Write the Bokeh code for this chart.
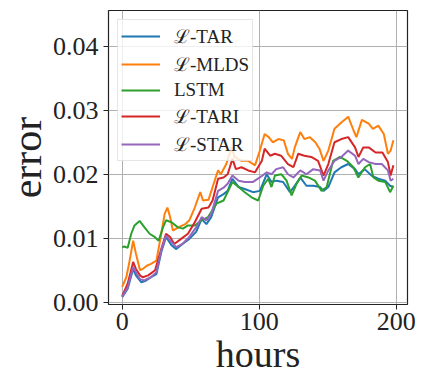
from bokeh.plotting import figure
from bokeh.models import Range1d, FixedTicker, NumeralTickFormatter, Legend, LegendItem
from bokeh.embed import file_html
from bokeh.resources import INLINE

# ---- data ----
tar_hours = [0, 4, 8, 10, 14, 17.5, 21, 25, 28.5, 32, 36, 39.5, 44, 49, 54, 58, 61.5, 65, 70, 74,
             77, 80.5, 85, 89.5, 95.5, 100.5, 105.5, 109, 112.5, 117.5, 122.5, 126, 130, 134.5, 139.5,
             144.5, 147, 150.5, 155, 160, 165, 170, 172.5, 177, 182, 187, 192, 195.5, 198]
tar_err = [0.0008, 0.0021, 0.0052, 0.0042, 0.0031, 0.0034, 0.0039, 0.0044, 0.0078, 0.0102,
           0.0089, 0.0083, 0.0091, 0.0099, 0.011, 0.013, 0.0122, 0.0133, 0.0164, 0.0169,
           0.0174, 0.0193, 0.018, 0.0177, 0.0172, 0.0174, 0.02, 0.0188, 0.019, 0.0188,
           0.0172, 0.0182, 0.0195, 0.0182, 0.0182, 0.018, 0.0174, 0.018, 0.0203, 0.0211,
           0.0216, 0.0208, 0.02, 0.0208, 0.0198, 0.0193, 0.019, 0.0182, 0.018]

mlds_hours = [0, 3, 5, 8, 10, 13, 15, 18, 21, 25, 28.5, 31, 33, 35, 37, 41, 46, 49, 53, 57,
              59, 63, 66, 70, 72, 76, 80, 82, 87, 92, 97, 100.5, 104, 107, 110, 114, 118, 121, 124, 126,
              130, 133, 137, 141, 144, 147, 150.5, 155, 160, 165, 169, 171, 175, 180, 183, 187, 191, 194, 196, 198]
mlds_err = [0.0024, 0.0039, 0.006, 0.0096, 0.0076, 0.005, 0.0052, 0.0057, 0.006, 0.0065,
            0.0107, 0.0138, 0.0148, 0.0133, 0.0112, 0.0117, 0.0122, 0.0128, 0.0148, 0.0172,
            0.0159, 0.016, 0.018, 0.0206, 0.02, 0.0216, 0.0242, 0.0227, 0.0221, 0.0221,
            0.0214, 0.0237, 0.0263, 0.0258, 0.025, 0.0255, 0.0253, 0.0232, 0.0224, 0.0242,
            0.0266, 0.0255, 0.0258, 0.025, 0.024, 0.0221, 0.0237, 0.0271, 0.0281, 0.029,
            0.0268, 0.0258, 0.0285, 0.0279, 0.0271, 0.0276, 0.0263, 0.0232, 0.0237, 0.0253]

lstm_hours = [0, 1.7, 4, 6.6, 9, 12.7, 16.3, 20, 23.7, 26.6, 29.8, 32, 36, 40.7, 44.4, 48, 53, 58,
              62.7, 68.8, 74, 77, 80.5, 85, 89.5, 94.4, 99.3, 103, 106.6, 109, 111.5, 116.3, 120,
              123.7, 127.3, 131, 136, 140.7, 145.6, 149.3, 154, 159, 164, 168.8, 172.4, 177.3, 181,
              183.4, 187, 192, 195.6, 198]
lstm_err = [0.0086, 0.0087, 0.0085, 0.0107, 0.012, 0.0127, 0.0117, 0.0107, 0.0102, 0.0096,
            0.0117, 0.0128, 0.0125, 0.0117, 0.0115, 0.012, 0.012, 0.0128, 0.0133, 0.0154,
            0.0159, 0.0172, 0.0188, 0.018, 0.0172, 0.0164, 0.0159, 0.0182, 0.0193, 0.018,
            0.0198, 0.02, 0.019, 0.0167, 0.0185, 0.0198, 0.0195, 0.019, 0.0174, 0.018,
            0.0221, 0.0227, 0.0221, 0.0211, 0.0195, 0.0211, 0.0216, 0.0195, 0.019, 0.0188,
            0.0172, 0.0182]

tari_hours = [0, 4, 8, 10, 13, 15, 19, 24, 28.5, 32, 35, 38, 43, 48, 53, 58, 63, 66, 70, 74,
              77, 80.5, 83, 87, 92, 97, 102, 104, 108, 111.5, 116, 121, 125, 128.5, 133, 138, 143,
              147, 150.5, 155, 160, 165, 170, 172.5, 176, 180, 185, 190, 194, 196, 198]
tari_err = [0.001, 0.0029, 0.0063, 0.0052, 0.0042, 0.0039, 0.0042, 0.005, 0.0083, 0.0107,
            0.0102, 0.0091, 0.0099, 0.0107, 0.0125, 0.0146, 0.0148, 0.0159, 0.0193, 0.0195,
            0.02, 0.0224, 0.0208, 0.0211, 0.0206, 0.0203, 0.0221, 0.024, 0.0229, 0.0232,
            0.0229, 0.0216, 0.0211, 0.0232, 0.0229, 0.0227, 0.0221, 0.0198, 0.0216, 0.025,
            0.0255, 0.0258, 0.0242, 0.0227, 0.0242, 0.0242, 0.0234, 0.0234, 0.0219, 0.0198,
            0.0214]

star_hours = [0, 4, 8, 10, 13, 16, 21, 25, 28.5, 32, 36, 39.5, 44, 49, 54, 58, 61.5, 65, 70, 74,
              77, 80.5, 85, 89.5, 95.5, 100.5, 105.5, 109, 112.5, 117.5, 121, 125, 130, 134.5, 139.5,
              144.5, 147, 150.5, 155, 160, 165, 170, 172.5, 176, 180, 185, 189.5, 194, 196, 198]
star_err = [0.0009, 0.0023, 0.0055, 0.0047, 0.0036, 0.0034, 0.0039, 0.0047, 0.0081, 0.0104,
            0.0094, 0.0086, 0.0091, 0.0102, 0.0117, 0.0133, 0.0128, 0.0138, 0.0174, 0.0179,
            0.0185, 0.0198, 0.019, 0.0188, 0.0188, 0.0195, 0.0203, 0.02, 0.0208, 0.0211,
            0.02, 0.0195, 0.0206, 0.02, 0.0208, 0.0206, 0.019, 0.0206, 0.0221, 0.0227,
            0.0237, 0.0229, 0.0216, 0.0224, 0.0219, 0.0216, 0.0216, 0.0206, 0.019, 0.0193]

series_labels = ["\u2112-TAR", "\u2112-MLDS", "LSTM", "\u2112-TARI", "\u2112-STAR"]
series_colors = ["#1f77b4", "#ff7f0e", "#2ca02c", "#d62728", "#9467bd"]
x_ticks = [0, 100, 200]
y_ticks = [0.0, 0.01, 0.02, 0.03, 0.04]
x_title = "hours"
y_title = "error"

FONT = "Liberation Serif"
INK = "#222222"

p = figure(frame_width=299, frame_height=294, output_backend="svg", toolbar_location=None,
           x_range=Range1d(-10, 208.3), y_range=Range1d(-0.00036, 0.0456),
           min_border_left=107, min_border_right=12, min_border_top=10, min_border_bottom=84)
p.background_fill_color = "white"
p.border_fill_color = "white"
p.outline_line_color = INK
p.outline_line_width = 1.2

renderers = []
for hrs, err, c in zip([tar_hours, mlds_hours, lstm_hours, tari_hours, star_hours],
                       [tar_err, mlds_err, lstm_err, tari_err, star_err], series_colors):
    r = p.line(hrs, err, line_color=c, line_width=2)
    renderers.append(r)

p.xaxis.ticker = FixedTicker(ticks=x_ticks)
p.yaxis.ticker = FixedTicker(ticks=y_ticks)
p.yaxis.formatter = NumeralTickFormatter(format="0.00")
for ax in (p.xaxis, p.yaxis):
    ax.axis_line_color = None
    ax.major_tick_line_color = INK
    ax.major_tick_out = 5
    ax.major_tick_in = 0
    ax.minor_tick_line_color = None
    ax.major_label_text_font = FONT
    ax.major_label_text_font_size = "26px"
    ax.major_label_text_color = INK
    ax.axis_label_text_font = FONT
    ax.axis_label_text_font_style = "normal"
    ax.axis_label_text_color = INK
p.xaxis.axis_label = x_title
p.yaxis.axis_label = y_title
p.xaxis.axis_label_text_font_size = "38px"
p.yaxis.axis_label_text_font_size = "42px"
p.xaxis.major_label_standoff = 3
p.xaxis.axis_label_standoff = 0
p.yaxis.major_label_standoff = 5
p.yaxis.axis_label_standoff = 0

p.grid.grid_line_color = "#b0b0b0"
p.grid.grid_line_width = 1

legend = Legend(items=[LegendItem(label=l, renderers=[r]) for l, r in zip(series_labels, renderers)],
                location="top_left")
legend.margin = 9
legend.padding = 3
legend.spacing = 2
legend.glyph_width = 39
legend.glyph_height = 20
legend.label_height = 20
legend.label_standoff = 14
legend.label_text_font = FONT
legend.label_text_font_size = "19px"
legend.label_text_color = INK
legend.border_line_color = "#cccccc"
legend.border_line_width = 1
legend.background_fill_alpha = 0.8
p.add_layout(legend)

open("out.html", "w").write(file_html(p, INLINE))
